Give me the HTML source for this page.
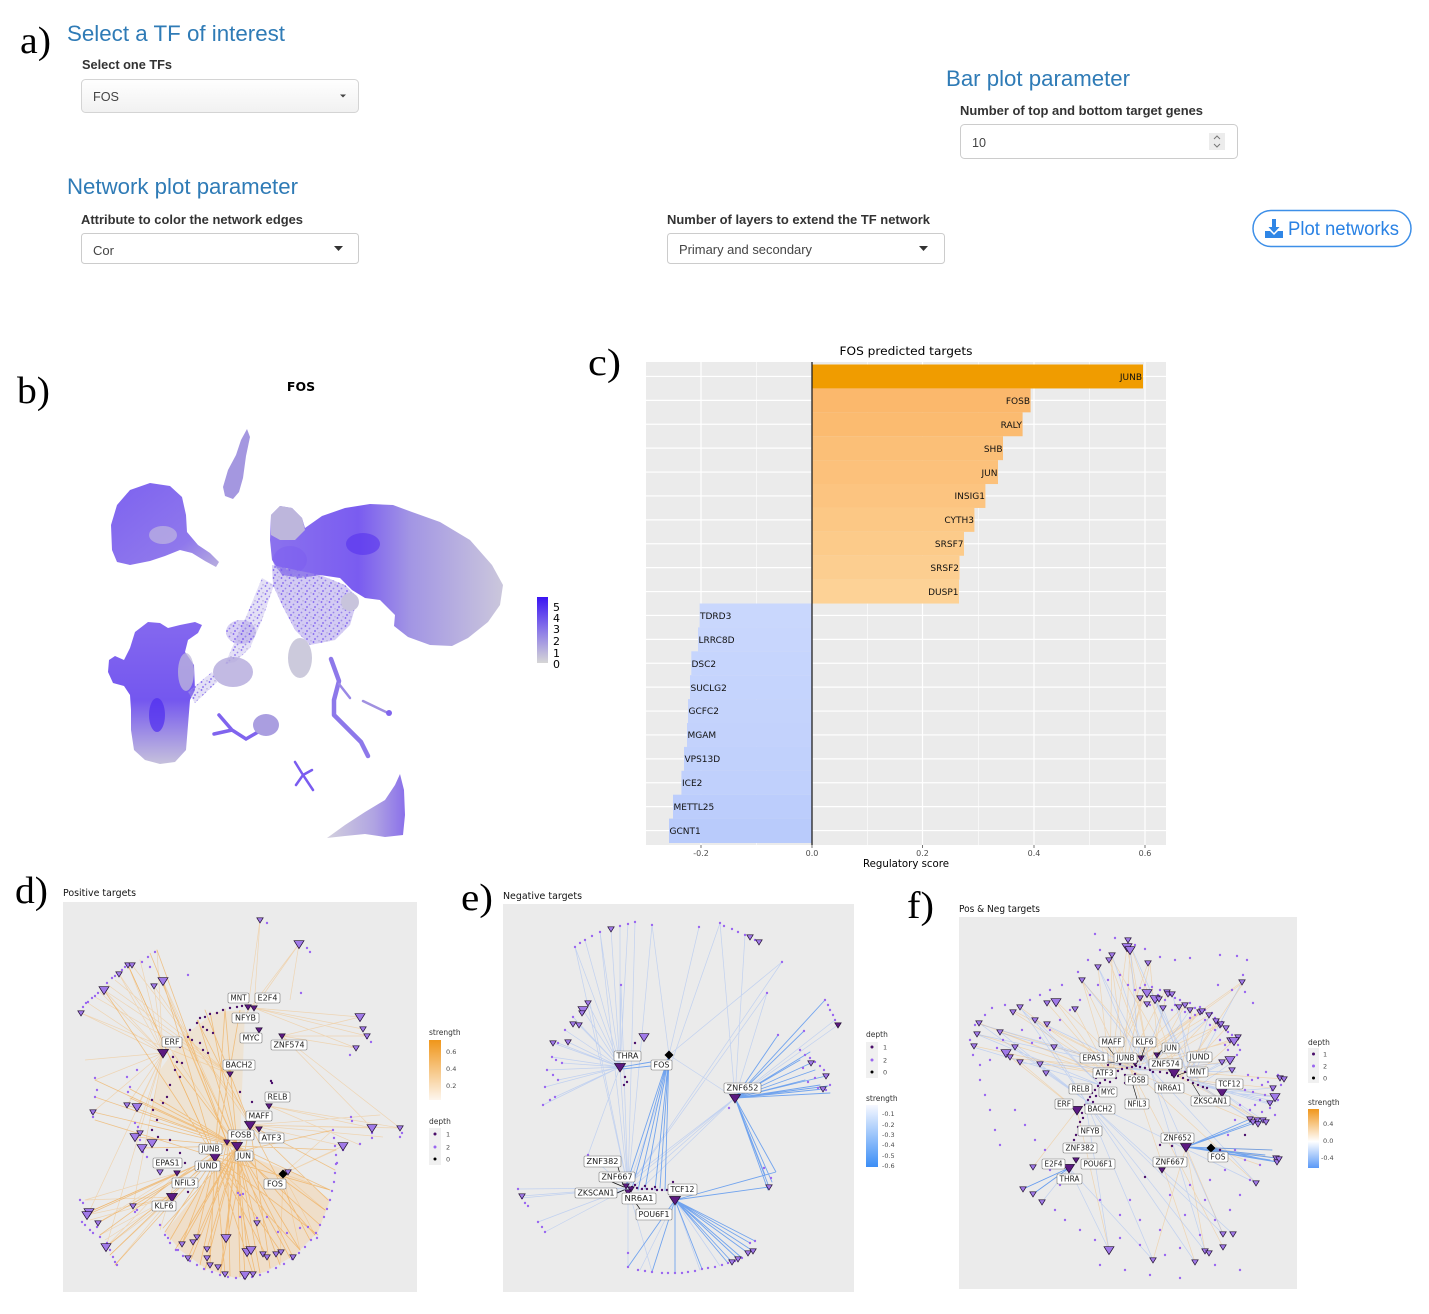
<!DOCTYPE html>
<html><head><meta charset="utf-8"><style>
html,body{margin:0;padding:0;background:#fff;}
svg{display:block;}
.h{font-family:"Liberation Sans",sans-serif;font-size:22px;fill:#2f7bb6;}
.lb{font-family:"Liberation Sans",sans-serif;font-size:13px;font-weight:bold;fill:#333;}
.in{font-family:"Liberation Sans",sans-serif;font-size:13px;fill:#444;}
.pl{font-family:"Liberation Serif",serif;font-size:38px;fill:#000;}
.dj{font-family:"DejaVu Sans","Liberation Sans",sans-serif;}
.lo{fill:none;stroke:#f6a640;stroke-opacity:.33;stroke-width:.7;stroke-linejoin:round;}
.lo2{fill:none;stroke:#f29a28;stroke-opacity:.5;stroke-width:.8;stroke-linejoin:round;}
.lb1{fill:none;stroke:#8fb2f6;stroke-opacity:.45;stroke-width:.7;stroke-linejoin:round;}
.lb2{fill:none;stroke:#3f86f0;stroke-opacity:.7;stroke-width:.9;stroke-linejoin:round;}
.dl{fill:none;stroke:#9966f0;stroke-width:2.4;stroke-linecap:round;}
.dd{fill:none;stroke:#4a0f6a;stroke-width:2.4;stroke-linecap:round;}
.bx{fill:#fff;stroke:#777;stroke-width:.6;}
.bt{font-family:"DejaVu Sans","Liberation Sans",sans-serif;font-size:7.5px;fill:#222;text-anchor:middle;}
.lg{font-family:"DejaVu Sans","Liberation Sans",sans-serif;font-size:7.5px;fill:#333;}
.lgs{font-family:"DejaVu Sans","Liberation Sans",sans-serif;font-size:6.5px;fill:#4d4d4d;}
.bl{font-family:"DejaVu Sans","Liberation Sans",sans-serif;font-size:9px;fill:#111;}
.tk{font-family:"DejaVu Sans","Liberation Sans",sans-serif;font-size:8px;fill:#4d4d4d;text-anchor:middle;}
</style></head><body>
<svg width="1429" height="1314" viewBox="0 0 1429 1314" xmlns="http://www.w3.org/2000/svg">
<defs>
<linearGradient id="selg" x1="0" y1="0" x2="0" y2="1"><stop offset="0" stop-color="#ffffff"/><stop offset="1" stop-color="#f1f1f1"/></linearGradient>
<linearGradient id="umleg" x1="0" y1="0" x2="0" y2="1"><stop offset="0" stop-color="#3a14f3"/><stop offset="0.5" stop-color="#8a78e8"/><stop offset="1" stop-color="#d6d6d6"/></linearGradient>
<linearGradient id="bigb" x1="0" y1="0" x2="1" y2="0"><stop offset="0" stop-color="#8b72ee"/><stop offset="0.38" stop-color="#7a5cf0"/><stop offset="0.6" stop-color="#a295e4"/><stop offset="1" stop-color="#cbc7dc"/></linearGradient>
<linearGradient id="llb" x1="0" y1="0" x2="0" y2="1"><stop offset="0" stop-color="#8468ef"/><stop offset="0.55" stop-color="#7457ef"/><stop offset="1" stop-color="#c6c1dc"/></linearGradient>
<linearGradient id="ulb" x1="0" y1="0" x2="1" y2="1"><stop offset="0" stop-color="#7d62f0"/><stop offset="0.7" stop-color="#8f78ec"/><stop offset="1" stop-color="#b8aede"/></linearGradient>
<linearGradient id="botb" x1="0" y1="0" x2="1" y2="0"><stop offset="0" stop-color="#d3d0de"/><stop offset="0.6" stop-color="#b0a4e2"/><stop offset="1" stop-color="#8a70ea"/></linearGradient>
<linearGradient id="gor" x1="0" y1="0" x2="0" y2="1"><stop offset="0" stop-color="#f0961a"/><stop offset="1" stop-color="#fdf6ee"/></linearGradient>
<linearGradient id="gbl" x1="0" y1="0" x2="0" y2="1"><stop offset="0" stop-color="#f6f8ff"/><stop offset="1" stop-color="#3b8ef6"/></linearGradient>
<linearGradient id="gob" x1="0" y1="0" x2="0" y2="1"><stop offset="0" stop-color="#f0961a"/><stop offset="0.55" stop-color="#ffffff"/><stop offset="1" stop-color="#5a99f7"/></linearGradient>
<pattern id="spk" width="8" height="8" patternUnits="userSpaceOnUse"><circle cx="1.5" cy="2" r="0.9" fill="#7a5cf0"/><circle cx="5.5" cy="4.5" r="0.9" fill="#9684ea"/><circle cx="3" cy="7" r="0.9" fill="#7a5cf0"/><circle cx="7" cy="0.8" r="0.8" fill="#b5acdc"/></pattern>
<path id="tls" d="M-3.2,-2.2L3.2,-2.2L0,3Z" fill="#a07ae8" stroke="#1e0a2e" stroke-width=".7"/>
<path id="tlb" d="M-5,-3.3L5,-3.3L0,4.6Z" fill="#a07ae8" stroke="#1e0a2e" stroke-width=".7"/>
<path id="tds" d="M-3.2,-2.2L3.2,-2.2L0,3Z" fill="#5c1a82" stroke="#1e0a2e" stroke-width=".7"/>
<path id="tdb" d="M-5.5,-3.5L5.5,-3.5L0,5Z" fill="#5c1a82" stroke="#1e0a2e" stroke-width=".7"/>
<path id="dia" d="M0,-4.5L4.5,0L0,4.5L-4.5,0Z" fill="#000"/>
</defs>
<rect x="0" y="0" width="1429" height="1314" fill="#fff"/>

<!-- ===== Panel a ===== -->
<text class="pl" x="20" y="53" textLength="31" lengthAdjust="spacingAndGlyphs">a)</text>
<text class="h" x="67" y="41" textLength="218" lengthAdjust="spacingAndGlyphs">Select a TF of interest</text>
<text class="lb" x="82" y="69" textLength="90" lengthAdjust="spacingAndGlyphs">Select one TFs</text>
<rect x="81.5" y="79.5" width="277" height="33" rx="4" fill="url(#selg)" stroke="#d4d4d4"/>
<text class="in" x="93" y="101" textLength="26" lengthAdjust="spacingAndGlyphs">FOS</text>
<path d="M340,94.5h6l-3,3z" fill="#444"/>

<text class="h" x="946" y="86" textLength="184" lengthAdjust="spacingAndGlyphs">Bar plot parameter</text>
<text class="lb" x="960" y="115" textLength="243" lengthAdjust="spacingAndGlyphs">Number of top and bottom target genes</text>
<rect x="960.5" y="124.5" width="277" height="34" rx="4" fill="#fff" stroke="#cccccc"/>
<text class="in" x="972" y="147" textLength="14" lengthAdjust="spacingAndGlyphs">10</text>
<rect x="1209" y="133" width="16" height="17" fill="#ececec"/>
<path d="M1214,139l3,-3l3,3M1214,144l3,3l3,-3" fill="none" stroke="#777" stroke-width="1"/>

<text class="h" x="67" y="194" textLength="231" lengthAdjust="spacingAndGlyphs">Network plot parameter</text>
<text class="lb" x="81" y="224" textLength="222" lengthAdjust="spacingAndGlyphs">Attribute to color the network edges</text>
<rect x="81.5" y="233.5" width="277" height="30" rx="3" fill="#fff" stroke="#cccccc"/>
<text class="in" x="93" y="255" font-size="14" textLength="21" lengthAdjust="spacingAndGlyphs">Cor</text>
<path d="M334,246h9l-4.5,5z" fill="#333"/>
<text class="lb" x="667" y="224" textLength="263" lengthAdjust="spacingAndGlyphs">Number of layers to extend the TF network</text>
<rect x="667.5" y="233.5" width="277" height="30" rx="3" fill="#fff" stroke="#cccccc"/>
<text class="in" x="679" y="254" font-size="14" textLength="133" lengthAdjust="spacingAndGlyphs">Primary and secondary</text>
<path d="M919,246h9l-4.5,5z" fill="#333"/>

<rect x="1253" y="210.5" width="158" height="36" rx="18" fill="#fff" stroke="#3d8fe8" stroke-width="1.5"/>
<path d="M1272,219h4v8h3.5l-5.5,6l-5.5,-6h3.5z" fill="#2f86e6"/>
<path d="M1265,231h5l4,4l4,-4h5v7h-18z" fill="#2f86e6"/>
<text x="1288" y="235" font-family="Liberation Sans, sans-serif" font-size="19" fill="#2a82e4" textLength="111" lengthAdjust="spacingAndGlyphs">Plot networks</text>

<!-- ===== Panel b (UMAP) ===== -->
<text class="pl" x="17" y="403" textLength="33" lengthAdjust="spacingAndGlyphs">b)</text>
<text x="301" y="391" font-family="DejaVu Sans, Liberation Sans, sans-serif" font-size="12.5" font-weight="bold" text-anchor="middle" fill="#000">FOS</text>
<g>
<path d="M247,429L250,437L246,456L243,478L239,492L233,499L225,496L223,487L228,470L236,455L241,440Z" fill="#a497e0"/>
<path d="M150,483L170,486L182,497L186,515L187,532L198,545L210,553L219,562L216,567L205,561L192,553L180,550L165,556L150,561L130,565L117,562L112,550L111,525L117,505L130,490Z" fill="url(#ulb)"/>
<ellipse cx="163" cy="535" rx="14" ry="9" fill="#c3bcde" opacity=".65"/>
<path d="M270,540L271,515L280,506L292,508L302,518L305,528L322,516L345,508L370,504L393,505L412,512L440,522L470,540L492,565L503,585L500,605L488,622L468,638L452,646L430,645L408,637L394,626L395,615L380,600L365,598L352,590L340,578L320,575L300,578L282,575L272,560Z" fill="url(#bigb)"/>
<path d="M271,515L280,506L292,508L302,518L305,530L295,540L280,540L271,535Z" fill="#bdb6dc"/>
<ellipse cx="363" cy="544" rx="17" ry="11" fill="#5632ef" opacity=".6"/>
<ellipse cx="290" cy="560" rx="17" ry="14" fill="#7a5cf0" opacity=".45"/>
<path d="M272,565L320,575L345,585L358,598L350,625L335,640L310,645L295,630L282,605L273,585Z" fill="#a898e8" opacity=".5"/>
<path d="M272,565L320,575L345,585L358,598L350,625L335,640L310,645L295,630L282,605L273,585Z" fill="url(#spk)"/>
<path d="M262,578L274,585L262,620L250,648L235,662L225,664L232,648L248,612Z" fill="#b2a6e6" opacity=".35"/>
<path d="M262,578L274,585L262,620L250,648L235,662L225,664L232,648L248,612Z" fill="url(#spk)" opacity=".9"/>
<ellipse cx="350" cy="602" rx="9" ry="9" fill="#c8c4dc"/>
<ellipse cx="300" cy="658" rx="12" ry="20" fill="#cccadc"/>
<path d="M109,660L115,656L124,660L130,648L135,632L148,622L160,623L168,628L180,625L195,622L202,625L198,633L188,640L185,652L194,665L195,690L190,700L188,725L186,750L175,762L160,764L145,760L134,750L131,730L131,710L130,695L124,686L113,683L108,672Z" fill="url(#llb)"/>
<ellipse cx="186" cy="672" rx="8" ry="19" fill="#bfb8dc" opacity=".75"/>
<ellipse cx="157" cy="715" rx="8" ry="17" fill="#4f2cef" opacity=".7"/>
<ellipse cx="233" cy="672" rx="20" ry="15" fill="#b3a9dc" opacity=".8"/>
<ellipse cx="241" cy="632" rx="15" ry="12" fill="#a897e6" opacity=".45"/>
<ellipse cx="241" cy="632" rx="15" ry="12" fill="url(#spk)"/>
<path d="M188,692L212,672L217,682L195,703Z" fill="#b2a6e6" opacity=".35"/>
<path d="M188,692L212,672L217,682L195,703Z" fill="url(#spk)"/>
<path d="M214,734L232,730M219,715L232,730L246,739L258,732" fill="none" stroke="#8064ee" stroke-width="3.5" stroke-linecap="round"/>
<ellipse cx="266" cy="725" rx="13" ry="11" fill="#aa9ee0"/>
<path d="M331,659L339,681L334,700L334,715L344,725L361,742L368,756" fill="none" stroke="#8d78ea" stroke-width="4.5" stroke-linecap="round" stroke-linejoin="round"/>
<path d="M339,684L350,698" fill="none" stroke="#9a88e6" stroke-width="2.5" stroke-linecap="round"/>
<path d="M363,701L388,713" fill="none" stroke="#a090e0" stroke-width="2.5" stroke-linecap="round"/>
<circle cx="389" cy="713" r="3" fill="#8064ee"/>
<path d="M295,762L303,775L313,790M296,785L303,775L312,770" fill="none" stroke="#7a5cf0" stroke-width="2.5" stroke-linecap="round"/>
<path d="M400,774L404,790L405,815L403,835L385,837L365,834L345,836L327,838L345,825L365,812L385,800L395,785Z" fill="url(#botb)"/>
</g>
<rect x="537" y="597" width="11" height="66" fill="url(#umleg)"/>
<g font-family="DejaVu Sans, Liberation Sans, sans-serif" font-size="11" fill="#000">
<text x="553" y="611">5</text><text x="553" y="622">4</text><text x="553" y="633">3</text><text x="553" y="645">2</text><text x="553" y="657">1</text><text x="553" y="668">0</text>
</g>

<!-- ===== Panel c (bar chart) ===== -->
<text class="pl" x="588" y="375" textLength="33" lengthAdjust="spacingAndGlyphs">c)</text>
<text class="dj" x="906" y="355" font-size="11.5" text-anchor="middle" fill="#000" textLength="133" lengthAdjust="spacingAndGlyphs">FOS predicted targets</text>
<rect x="646" y="362" width="520" height="483" fill="#ebebeb"/>
<g stroke="#fff">
<path d="M756.5,362V845M867.5,362V845M978.5,362V845M1089.5,362V845" stroke-width=".6"/>
<path d="M701,362V845M812,362V845M922.5,362V845M1034,362V845M1145,362V845" stroke-width="1.2"/>
<path d="M646,376.45H1166M646,400.35H1166M646,424.25H1166M646,448.15H1166M646,472.05H1166M646,495.95H1166M646,519.85H1166M646,543.75H1166M646,567.65H1166M646,591.55H1166M646,615.45H1166M646,639.35H1166M646,663.25H1166M646,687.15H1166M646,711.05H1166M646,734.95H1166M646,758.85H1166M646,782.75H1166M646,806.65H1166M646,830.55H1166" stroke-width="1.2"/>
</g>
<rect x="812" y="364.5" width="331" height="23.95" fill="#f09c00"/>
<rect x="812" y="388.4" width="218.6" height="23.95" fill="#fbb86c"/>
<rect x="812" y="412.3" width="210.6" height="23.95" fill="#fbbb70"/>
<rect x="812" y="436.2" width="191" height="23.95" fill="#fbbf77"/>
<rect x="812" y="460.1" width="186" height="23.95" fill="#fcc17b"/>
<rect x="812" y="484" width="173.4" height="23.95" fill="#fcc480"/>
<rect x="812" y="507.9" width="162.4" height="23.95" fill="#fcc885"/>
<rect x="812" y="531.8" width="152" height="23.95" fill="#fccb8a"/>
<rect x="812" y="555.7" width="147.5" height="23.95" fill="#fcce90"/>
<rect x="812" y="579.6" width="147" height="23.95" fill="#fdd296"/>
<rect x="699.6" y="603.5" width="112.4" height="23.95" fill="#c9d7fd"/>
<rect x="698" y="627.4" width="114" height="23.95" fill="#c8d6fd"/>
<rect x="691.3" y="651.3" width="120.7" height="23.95" fill="#c6d5fd"/>
<rect x="690" y="675.2" width="122" height="23.95" fill="#c5d4fd"/>
<rect x="688" y="699.1" width="124" height="23.95" fill="#c4d3fc"/>
<rect x="687" y="723" width="125" height="23.95" fill="#c3d2fc"/>
<rect x="684" y="746.9" width="128" height="23.95" fill="#c1d1fc"/>
<rect x="681.4" y="770.8" width="130.6" height="23.95" fill="#c0d0fc"/>
<rect x="673" y="794.7" width="139" height="23.95" fill="#bccdfc"/>
<rect x="669" y="818.6" width="143" height="24.4" fill="#b9cbfb"/>
<line x1="812" y1="362" x2="812" y2="845" stroke="#222" stroke-width="1.3"/>
<g class="bl" text-anchor="end">
<text x="1142" y="380">JUNB</text><text x="1030" y="404">FOSB</text><text x="1022" y="428">RALY</text><text x="1002.5" y="452">SHB</text><text x="997.5" y="476">JUN</text><text x="985" y="499">INSIG1</text><text x="974" y="523">CYTH3</text><text x="963.5" y="547">SRSF7</text><text x="959" y="571">SRSF2</text><text x="958.5" y="595">DUSP1</text>
</g>
<g class="bl">
<text x="700" y="619">TDRD3</text><text x="698.5" y="643">LRRC8D</text><text x="691.5" y="667">DSC2</text><text x="690.5" y="691">SUCLG2</text><text x="688.5" y="714">GCFC2</text><text x="687.5" y="738">MGAM</text><text x="684.5" y="762">VPS13D</text><text x="682" y="786">ICE2</text><text x="673.5" y="810">METTL25</text><text x="669.5" y="834">GCNT1</text>
</g>
<path d="M701,845v3M812,845v3M922.5,845v3M1034,845v3M1145,845v3" stroke="#555" stroke-width=".8"/>
<text class="tk" x="701" y="856">-0.2</text><text class="tk" x="812" y="856">0.0</text><text class="tk" x="922.5" y="856">0.2</text><text class="tk" x="1034" y="856">0.4</text><text class="tk" x="1145" y="856">0.6</text>
<text class="dj" x="906" y="867" font-size="10.5" text-anchor="middle" fill="#000" textLength="86" lengthAdjust="spacingAndGlyphs">Regulatory score</text>

<!-- ===== Panel d ===== -->
<text class="pl" x="15" y="903" textLength="33" lengthAdjust="spacingAndGlyphs">d)</text>
<text class="dj" x="63" y="896" font-size="9.5" fill="#111" textLength="73" lengthAdjust="spacingAndGlyphs">Positive targets</text>
<rect x="63" y="902" width="354" height="390" fill="#ebebeb"/>
<path d="M232,1150L165,1232L180,1250L205,1268L235,1278L265,1272L295,1255L318,1232L330,1200L300,1175Z" fill="#f8c17a" opacity=".3"/>
<path d="M240,1145L150,1115L160,1070L185,1035L215,1012L245,1010Z" fill="#f9cf96" opacity=".28"/>
<path class="lo" d="M163 1053 81 1013 163 1053 104 990 163 1053 119 974 163 1053 128 965 163 1053 154 986 163 1053 140 960 163 1053 157 950 163 1053 95 1080 163 1053 93 1112 163 1053 127 1105 163 1053 137 1107 163 1053 135 1137 163 1053 89 1212 163 1053 106 1247 163 1053 133 1206 163 1053 88 1003 163 1053 100 992 163 1053 85 1060 M260 920 248 1007 M260 920 254 1008 M299 944 254 1008 M299 944 245 1015 M299 944 290 1000 M254 1008 360 1017 254 1008 363 1029 254 1008 367 1036 254 1008 356 1048 M282 1036 356 1048 282 1036 367 1036 282 1036 400 1128 282 1036 372 1128 282 1036 360 1017 M250 1125 372 1128 250 1125 400 1128 250 1125 343 1146 250 1125 380 1115 250 1125 383 1137 M269 1106 372 1128 269 1106 360 1145 269 1106 400 1128 M163 981 237 1146 M163 981 227 1142 M154 986 250 1125 M128 965 215 1157 M132 965 259 1129 M104 990 230 1074 M119 974 237 1146 M230 1074 81 1013 230 1074 95 997 230 1074 108 985 230 1074 115 980 M172 1197 85 1200 172 1197 90 1220 172 1197 100 1235 172 1197 105 1240 172 1197 110 1255 172 1197 115 1265 172 1197 87 1215 172 1197 106 1247 172 1197 133 1206 M283 1174 315 1235 283 1174 325 1210 283 1174 330 1190 283 1174 336 1150 283 1174 333 1130 283 1174 343 1146 283 1174 300 1250 283 1174 280 1265 M177 1173 89 1212 177 1173 98 1223 177 1173 106 1247 177 1173 85 1200 177 1173 160 1230"/>
<path class="lo2" d="M237 1146 175 1250 237 1146 190 1262 237 1146 205 1270 237 1146 220 1275 237 1146 240 1277 237 1146 260 1273 237 1146 280 1265 237 1146 300 1250 237 1146 315 1235 237 1146 325 1210 237 1146 330 1190 237 1146 336 1150 237 1146 226 1238 237 1146 247 1252 237 1146 263 1254 237 1146 276 1254 237 1146 293 1257 237 1146 245 1275 237 1146 207 1249 237 1146 188 1258 237 1146 182 1244 237 1146 163 1228 237 1146 135 1137 237 1146 142 1148 237 1146 127 1105 237 1146 93 1112 237 1146 198 1020 237 1146 210 1012 237 1146 225 1009 237 1146 187 1040 237 1146 175 1065 237 1146 160 1100 237 1146 150 1120 237 1146 130 1089 237 1146 95 1080 M215 1157 165 1232 215 1157 182 1244 215 1157 197 1237 215 1157 210 1265 215 1157 225 1274 215 1157 253 1274 215 1157 267 1257 215 1157 281 1252 215 1157 300 1250 215 1157 318 1235 215 1157 330 1190 215 1157 333 1130 215 1157 89 1212 215 1157 106 1247 215 1157 133 1206 215 1157 87 1215 215 1157 98 1223 215 1157 95 1120 215 1157 104 990 215 1157 128 965 215 1157 163 981 215 1157 225 1009 215 1157 240 1010 M227 1142 170 1240 227 1142 200 1265 227 1142 230 1276 227 1142 255 1272 227 1142 290 1258 227 1142 320 1225 227 1142 100 1235 227 1142 115 1265 227 1142 110 1255 227 1142 95 1097 227 1142 130 1098 227 1142 157 950 227 1142 150 953 M250 1125 175 1250 250 1125 220 1275 250 1125 270 1268 250 1125 310 1240 250 1125 328 1200 250 1125 335 1170 250 1125 205 1010 250 1125 197 1020"/>
<path class="dl" d="M160 1225h0M165 1235h0M170 1243h0M176 1250h0M183 1256h0M190 1261h0M197 1265h0M204 1269h0M212 1272h0M220 1275h0M228 1277h0M236 1278h0M244 1278h0M252 1277h0M260 1275h0M268 1272h0M276 1268h0M284 1264h0M292 1259h0M299 1253h0M305 1247h0M311 1240h0M316 1233h0M320 1225h0M324 1217h0M327 1209h0M330 1200h0M332 1191h0M334 1182h0M335 1173h0M336 1164h0M336 1155h0M335 1146h0M334 1138h0M333 1130h0M337 1163h0M343 1150h0M351 1117h0M352 1121h0M372 1133h0M372 1138h0M400 1137h0M402 1133h0M360 1144h0M350 1055h0M371 1042h0M367 1038h0M310 952h0M307 948h0M267 923h0M301 993h0M188 975h0M155 952h0M148 957h0M150 967h0M142 962h0M80 1013h0M83 1007h0M86 1003h0M88 1002h0M92 998h0M95 996h0M98 993h0M107 983h0M112 978h0M115 976h0M122 970h0M125 967h0M95 1078h0M97 1090h0M95 1097h0M127 1077h0M130 1087h0M128 1092h0M137 1070h0M135 1123h0M138 1127h0M140 1140h0M143 1152h0M147 1157h0M92 1113h0M93 1117h0M80 1200h0M83 1203h0M82 1222h0M85 1225h0M90 1230h0M93 1233h0M100 1237h0M107 1243h0M110 1250h0M113 1257h0M115 1262h0M117 1265h0M97 1227h0M137 1210h0M135 1212h0M240 1195h0M238 1193h0M243 1194h0M257 1218h0M267 1217h0M240 1217h0M278 1232h0M287 1233h0M300 1228h0M308 1227h0M317 1238h0M168 1238h0M178 1250h0M188 1258h0"/>
<path class="dd" d="M197 1023h0M200 1018h0M205 1017h0M210 1014h0M217 1013h0M223 1010h0M230 1008h0M237 1007h0M242 1006h0M190 1030h0M188 1037h0M192 1040h0M200 1043h0M203 1050h0M208 1053h0M180 1047h0M173 1057h0M177 1062h0M182 1063h0M175 1070h0M180 1077h0M170 1085h0M167 1097h0M163 1103h0M152 1100h0M153 1110h0M157 1120h0M152 1130h0M158 1137h0M170 1140h0M167 1150h0M180 1153h0M185 1163h0M188 1192h0M271 1081h0M272 1083h0M240 1092h0M252 1102h0M203 1027h0M207 1030h0M213 1033h0"/>
<g>
<use href="#tls" x="260" y="920"/><use href="#tlb" x="299" y="944"/><use href="#tls" x="128" y="965"/><use href="#tls" x="132" y="965"/><use href="#tlb" x="163" y="981"/><use href="#tls" x="154" y="986"/><use href="#tlb" x="104" y="990"/><use href="#tls" x="119" y="974"/><use href="#tls" x="81" y="1013"/><use href="#tlb" x="360" y="1017"/><use href="#tls" x="363" y="1029"/><use href="#tls" x="367" y="1036"/><use href="#tls" x="356" y="1048"/><use href="#tls" x="127" y="1105"/><use href="#tlb" x="137" y="1107"/><use href="#tls" x="93" y="1112"/><use href="#tlb" x="135" y="1137"/><use href="#tlb" x="142" y="1148"/><use href="#tlb" x="152" y="1143"/><use href="#tls" x="140" y="1133"/><use href="#tls" x="160" y="1172"/><use href="#tlb" x="372" y="1128"/><use href="#tls" x="400" y="1128"/><use href="#tlb" x="343" y="1146"/><use href="#tls" x="133" y="1206"/><use href="#tlb" x="89" y="1212"/><use href="#tlb" x="87" y="1215"/><use href="#tls" x="98" y="1223"/><use href="#tlb" x="106" y="1247"/><use href="#tls" x="182" y="1244"/><use href="#tls" x="193" y="1242"/><use href="#tls" x="188" y="1258"/><use href="#tls" x="207" y="1249"/><use href="#tlb" x="226" y="1238"/><use href="#tlb" x="247" y="1252"/><use href="#tlb" x="251" y="1250"/><use href="#tls" x="263" y="1254"/><use href="#tls" x="267" y="1257"/><use href="#tls" x="276" y="1254"/><use href="#tls" x="281" y="1252"/><use href="#tls" x="293" y="1257"/><use href="#tlb" x="245" y="1275"/><use href="#tls" x="225" y="1274"/><use href="#tls" x="218" y="1267"/><use href="#tls" x="207" y="1258"/><use href="#tls" x="257" y="1223"/><use href="#tls" x="197" y="1237"/><use href="#tls" x="210" y="1265"/><use href="#tls" x="253" y="1274"/><use href="#tls" x="288" y="1172"/>
<use href="#tdb" x="163" y="1053"/><use href="#tds" x="248" y="1007"/><use href="#tds" x="254" y="1008"/><use href="#tds" x="259" y="1030"/><use href="#tds" x="282" y="1036"/><use href="#tds" x="230" y="1074"/><use href="#tds" x="269" y="1106"/><use href="#tdb" x="250" y="1125"/><use href="#tds" x="259" y="1129"/><use href="#tds" x="227" y="1142"/><use href="#tdb" x="237" y="1146"/><use href="#tdb" x="215" y="1157"/><use href="#tds" x="177" y="1173"/><use href="#tdb" x="172" y="1197"/><use href="#dia" x="283" y="1174"/>
</g>
<g>
<rect class="bx" x="228" y="993" width="21" height="10" rx="1.5"/><text class="bt" x="238.5" y="1000.7" textLength="16" lengthAdjust="spacingAndGlyphs">MNT</text>
<rect class="bx" x="255" y="993" width="25" height="10" rx="1.5"/><text class="bt" x="267.5" y="1000.7" textLength="20" lengthAdjust="spacingAndGlyphs">E2F4</text>
<rect class="bx" x="232" y="1013" width="27" height="10" rx="1.5"/><text class="bt" x="245.5" y="1020.7" textLength="21" lengthAdjust="spacingAndGlyphs">NFYB</text>
<rect class="bx" x="240" y="1033" width="22" height="10" rx="1.5"/><text class="bt" x="251" y="1040.7" textLength="17" lengthAdjust="spacingAndGlyphs">MYC</text>
<rect class="bx" x="271" y="1040" width="36" height="10" rx="1.5"/><text class="bt" x="289" y="1047.7" textLength="31" lengthAdjust="spacingAndGlyphs">ZNF574</text>
<rect class="bx" x="162" y="1037" width="20" height="10" rx="1.5"/><text class="bt" x="172" y="1044.7" textLength="15" lengthAdjust="spacingAndGlyphs">ERF</text>
<rect class="bx" x="223" y="1060" width="32" height="10" rx="1.5"/><text class="bt" x="239" y="1067.7" textLength="27" lengthAdjust="spacingAndGlyphs">BACH2</text>
<rect class="bx" x="265" y="1092" width="25" height="10" rx="1.5"/><text class="bt" x="277.5" y="1099.7" textLength="20" lengthAdjust="spacingAndGlyphs">RELB</text>
<rect class="bx" x="246" y="1111" width="26" height="10" rx="1.5"/><text class="bt" x="259" y="1118.7" textLength="21" lengthAdjust="spacingAndGlyphs">MAFF</text>
<rect class="bx" x="228" y="1130" width="26" height="10" rx="1.5"/><text class="bt" x="241" y="1137.7" textLength="21" lengthAdjust="spacingAndGlyphs">FOSB</text>
<rect class="bx" x="259" y="1133" width="25" height="10" rx="1.5"/><text class="bt" x="271.5" y="1140.7" textLength="20" lengthAdjust="spacingAndGlyphs">ATF3</text>
<rect class="bx" x="199" y="1144" width="23" height="10" rx="1.5"/><text class="bt" x="210.5" y="1151.7" textLength="18" lengthAdjust="spacingAndGlyphs">JUNB</text>
<rect class="bx" x="235" y="1151" width="18" height="10" rx="1.5"/><text class="bt" x="244" y="1158.7" textLength="14" lengthAdjust="spacingAndGlyphs">JUN</text>
<rect class="bx" x="153" y="1158" width="29" height="10" rx="1.5"/><text class="bt" x="167.5" y="1165.7" textLength="24" lengthAdjust="spacingAndGlyphs">EPAS1</text>
<rect class="bx" x="195" y="1161" width="25" height="10" rx="1.5"/><text class="bt" x="207.5" y="1168.7" textLength="20" lengthAdjust="spacingAndGlyphs">JUND</text>
<rect class="bx" x="172" y="1178" width="26" height="10" rx="1.5"/><text class="bt" x="185" y="1185.7" textLength="21" lengthAdjust="spacingAndGlyphs">NFIL3</text>
<rect class="bx" x="264" y="1179" width="22" height="10" rx="1.5"/><text class="bt" x="275" y="1186.7" textLength="16" lengthAdjust="spacingAndGlyphs">FOS</text>
<rect class="bx" x="152" y="1201" width="24" height="10" rx="1.5"/><text class="bt" x="164" y="1208.7" textLength="19" lengthAdjust="spacingAndGlyphs">KLF6</text>
</g>
<text class="lg" x="429" y="1035">strength</text>
<rect x="429" y="1040" width="12" height="60" fill="url(#gor)"/>
<text class="lgs" x="446" y="1054">0.6</text><text class="lgs" x="446" y="1071">0.4</text><text class="lgs" x="446" y="1088">0.2</text>
<text class="lg" x="429" y="1124">depth</text>
<rect x="429" y="1128" width="12" height="37" fill="#f0f0f0"/>
<circle cx="435" cy="1134" r="1.5" fill="#4a0f6a"/><circle cx="435" cy="1147" r="1.5" fill="#9966f0"/><circle cx="435" cy="1159" r="1.5" fill="#000"/>
<text class="lgs" x="446" y="1136.5">1</text><text class="lgs" x="446" y="1149.5">2</text><text class="lgs" x="446" y="1161.5">0</text>

<!-- ===== Panel e ===== -->
<text class="pl" x="461" y="910" textLength="32" lengthAdjust="spacingAndGlyphs">e)</text>
<text class="dj" x="503" y="899" font-size="9.5" fill="#111" textLength="79" lengthAdjust="spacingAndGlyphs">Negative targets</text>
<rect x="503" y="904" width="351" height="388" fill="#ebebeb"/>
<path class="lb1" d="M620 1067 573 1017 620 1067 565 1030 620 1067 558 1043 620 1067 552 1057 620 1067 547 1070 620 1067 545 1087 620 1067 543 1105 620 1067 555 1097 620 1067 558 1080 620 1067 562 1063 620 1067 583 1010 620 1067 588 1003 620 1067 579 1025 620 1067 568 1042 620 1067 553 1043 620 1067 611 929 620 1067 600 932 620 1067 585 940 620 1067 575 947 620 1067 621 985 620 1067 588 1155 620 1067 620 926 620 1067 628 924 M669 1055 699 927 669 1055 652 925 669 1055 735 1098 669 1055 782 962 M735 1098 720 923 735 1098 745 935 735 1098 767 993 735 1098 838 1025 735 1098 835 1020 M628 1188 611 929 628 1188 621 985 628 1188 635 922 628 1188 652 925 628 1188 575 947 628 1188 518 1189 628 1188 522 1198 628 1188 538 1222 628 1188 588 1155 628 1188 628 1253 628 1188 628 1267 628 1188 652 1272 628 1188 720 923 628 1188 782 962 628 1188 767 993 628 1188 600 932 628 1188 590 1003 628 1188 545 1232 M522 1196 626 1188 M735 1098 626 1186 735 1098 632 1188 735 1098 640 1190 735 1098 635 1175 M675 1200 640 1270 675 1200 700 1270 675 1200 720 1266"/>
<path class="lb2" d="M622 1067 651 1062 M622 1069 651 1066 M669 1055 626 1186 669 1055 632 1188 669 1055 638 1190 669 1055 645 1189 669 1055 655 1190 669 1055 660 1188 669 1055 665 1191 M735 1098 811 1063 735 1098 823 1089 735 1098 826 1076 735 1098 815 1070 735 1098 805 1080 735 1098 820 1085 735 1098 828 1086 735 1098 800 1060 735 1098 810 1052 735 1098 830 1093 735 1098 804 1031 735 1098 825 1000 735 1098 778 1035 M735 1098 769 1187 735 1098 765 1175 735 1098 772 1182 735 1098 768 1190 735 1098 776 1172 M675 1200 628 1267 675 1200 652 1272 675 1200 675 1273 675 1200 702 1269 675 1200 728 1263 675 1200 742 1258 675 1200 755 1241 675 1200 750 1243 675 1200 732 1262 675 1200 738 1259 675 1200 748 1253 675 1200 753 1251 675 1200 769 1187 675 1200 776 1172"/>
<path class="dl" d="M575 947h0M580 943h0M585 940h0M592 936h0M600 932h0M620 926h0M628 924h0M635 922h0M652 925h0M699 927h0M621 985h0M767 993h0M782 962h0M778 1035h0M804 1031h0M729 1108h0M720 923h0M724 926h0M732 929h0M738 932h0M745 935h0M755 940h0M825 1000h0M828 1005h0M830 1010h0M833 1015h0M835 1020h0M800 1050h0M805 1055h0M810 1058h0M815 1062h0M820 1066h0M824 1070h0M828 1075h0M815 1078h0M808 1082h0M818 1088h0M826 1090h0M830 1085h0M803 1068h0M573 1017h0M565 1030h0M558 1043h0M552 1057h0M547 1070h0M545 1087h0M543 1105h0M555 1097h0M558 1080h0M562 1063h0M550 1100h0M553 1075h0M556 1060h0M628 1267h0M638 1270h0M645 1271h0M652 1272h0M662 1273h0M668 1273h0M675 1273h0M682 1273h0M688 1272h0M695 1271h0M702 1269h0M708 1268h0M715 1267h0M722 1265h0M728 1263h0M735 1261h0M742 1258h0M755 1241h0M750 1243h0M518 1189h0M522 1198h0M525 1203h0M528 1206h0M538 1222h0M542 1227h0M545 1232h0M628 1253h0M588 1155h0M764 1168h0M771 1178h0"/>
<path class="dd" d="M635 1043h0M625 1077h0M627 1082h0M624 1085h0M673 1182h0M626 1186h0M632 1187h0M637 1188h0M642 1189h0M647 1189h0M652 1189h0M657 1190h0M662 1190h0M667 1190h0M635 1185h0M645 1186h0M655 1187h0"/>
<g>
<use href="#tls" x="611" y="929"/><use href="#tls" x="750" y="937"/><use href="#tls" x="759" y="942"/><use href="#tls" x="588" y="1003"/><use href="#tlb" x="583" y="1010"/><use href="#tls" x="582" y="1013"/><use href="#tls" x="573" y="1024"/><use href="#tls" x="579" y="1025"/><use href="#tls" x="568" y="1042"/><use href="#tls" x="553" y="1043"/><use href="#tlb" x="644" y="1037"/><use href="#tds" x="838" y="1025"/><use href="#tls" x="811" y="1063"/><use href="#tls" x="826" y="1076"/><use href="#tls" x="823" y="1089"/><use href="#tls" x="769" y="1187"/><use href="#tls" x="522" y="1196"/><use href="#tls" x="732" y="1262"/><use href="#tls" x="738" y="1259"/><use href="#tls" x="748" y="1253"/><use href="#tls" x="753" y="1251"/>
<use href="#tdb" x="620" y="1067"/><use href="#tdb" x="735" y="1098"/><use href="#tdb" x="675" y="1200"/><use href="#tds" x="626" y="1186"/><use href="#tds" x="631" y="1189"/><use href="#tds" x="628" y="1192"/><use href="#dia" x="669" y="1055"/>
</g>
<path d="M618,1167L623,1185M612,1182L624,1187M617,1193L624,1190M640,1209L630,1195" stroke="#111" stroke-width=".7" fill="none"/>
<g>
<rect class="bx" x="614" y="1051" width="27" height="10" rx="1.5"/><text class="bt" x="627.5" y="1058.7" textLength="22" lengthAdjust="spacingAndGlyphs">THRA</text>
<rect class="bx" x="651" y="1060" width="21" height="10" rx="1.5"/><text class="bt" x="661.5" y="1067.7" textLength="16" lengthAdjust="spacingAndGlyphs">FOS</text>
<rect class="bx" x="724" y="1083" width="37" height="10" rx="1.5"/><text class="bt" x="742.5" y="1090.7" textLength="32" lengthAdjust="spacingAndGlyphs">ZNF652</text>
<rect class="bx" x="584" y="1156" width="37" height="11" rx="1.5"/><text class="bt" x="602.5" y="1164.2" textLength="32" lengthAdjust="spacingAndGlyphs">ZNF382</text>
<rect class="bx" x="599" y="1172" width="36" height="10" rx="1.5"/><text class="bt" x="617" y="1179.7" textLength="31" lengthAdjust="spacingAndGlyphs">ZNF667</text>
<rect class="bx" x="575" y="1188" width="42" height="10" rx="1.5"/><text class="bt" x="596" y="1195.7" textLength="37" lengthAdjust="spacingAndGlyphs">ZKSCAN1</text>
<rect class="bx" x="622" y="1193" width="34" height="11" rx="1.5"/><text class="bt" x="639" y="1201.2" textLength="29" lengthAdjust="spacingAndGlyphs">NR6A1</text>
<rect class="bx" x="636" y="1209" width="36" height="11" rx="1.5"/><text class="bt" x="654" y="1217.2" textLength="31" lengthAdjust="spacingAndGlyphs">POU6F1</text>
<rect class="bx" x="668" y="1184" width="29" height="11" rx="1.5"/><text class="bt" x="682.5" y="1192.2" textLength="24" lengthAdjust="spacingAndGlyphs">TCF12</text>
</g>
<text class="lg" x="866" y="1037">depth</text>
<rect x="866" y="1042" width="12" height="36" fill="#f0f0f0"/>
<circle cx="872" cy="1047" r="1.5" fill="#4a0f6a"/><circle cx="872" cy="1060" r="1.5" fill="#9966f0"/><circle cx="872" cy="1072" r="1.5" fill="#000"/>
<text class="lgs" x="883" y="1049.5">1</text><text class="lgs" x="883" y="1062.5">2</text><text class="lgs" x="883" y="1074.5">0</text>
<text class="lg" x="866" y="1101">strength</text>
<rect x="866" y="1105" width="12" height="62" fill="url(#gbl)"/>
<text class="lgs" x="882" y="1116">-0.1</text><text class="lgs" x="882" y="1127">-0.2</text><text class="lgs" x="882" y="1137">-0.3</text><text class="lgs" x="882" y="1147">-0.4</text><text class="lgs" x="882" y="1158">-0.5</text><text class="lgs" x="882" y="1168">-0.6</text>

<!-- ===== Panel f ===== -->
<text class="pl" x="907" y="918" textLength="27" lengthAdjust="spacingAndGlyphs">f)</text>
<text class="dj" x="959" y="912" font-size="9.5" fill="#111" textLength="81" lengthAdjust="spacingAndGlyphs">Pos &amp; Neg targets</text>
<rect x="959" y="917" width="338" height="372" fill="#ebebeb"/>
<path class="lo" d="M1110 1075 1128 940 1110 1075 1112 955 1110 1075 1098 967 1110 1075 1082 980 1110 1075 1148 963 1110 1075 1147 993 1110 1075 1140 998 1110 1075 1056 1002 1110 1075 1047 1003 1110 1075 1075 1009 1110 1075 1020 1007 1110 1075 1013 1012 1110 1075 979 1023 1110 1075 977 1034 1110 1075 974 1046 1110 1075 1000 1032 1110 1075 1006 1053 1110 1075 1040 1064 1110 1075 1242 982 1110 1075 1209 1015 M1150 1068 1167 992 1150 1068 1185 1005 1150 1068 1200 1012 1150 1068 1220 1025 1150 1068 1230 1040 1150 1068 1127 947 1150 1068 1130 950 1150 1068 1109 960 M1190 1080 1238 1037 1190 1080 1232 1070 1190 1080 1273 1088 1190 1080 1257 1120 M1211 1148 1276 1158 1211 1148 1270 1150 1211 1148 1260 1165 M1186 1147 1223 1234 1186 1147 1205 1251 1186 1147 1153 1260 M1077 1110 1033 1167 1077 1110 1109 1250 1077 1110 1010 1057 1077 1110 1020 1062 M1130 1068 1195 1262 1130 1068 1223 1247 1130 1068 1256 1183 M1125 1068 1130 945 1125 1068 1111 957 1125 1068 1083 982 1125 1068 1057 1002 1125 1068 1150 963 1125 1068 1142 999 1125 1068 1165 991 1125 1068 1182 1008 1125 1068 1202 1011 1125 1068 1221 1024 1125 1068 1234 1041 1125 1068 1244 982 1125 1068 1014 1011 1125 1068 1037 1021 1125 1068 979 1024 1125 1068 1009 1058 1125 1068 1284 1079 1125 1068 1253 1122 M1180 1078 1130 945 1180 1078 1111 957 1180 1078 1226 1028 1180 1078 1216 1021 1180 1078 1192 1011 1180 1078 1244 982 1180 1078 1277 1097 1180 1078 1266 1122 M1160 1070 1150 963 1160 1070 1209 1018 1160 1070 1234 1061 1160 1070 1083 982"/>
<path class="lb1" d="M1190 1080 1128 940 1190 1080 1155 999 1190 1080 1163 1008 1190 1080 1179 1007 1190 1080 1209 1015 1190 1080 1230 1060 1190 1080 1222 1062 1190 1080 1275 1097 1190 1080 1270 1103 1190 1080 1250 1119 1190 1080 1242 982 M1150 1068 1112 955 1150 1068 1082 980 1150 1068 1098 967 1150 1068 1190 1010 M1085 1100 1020 1007 1085 1100 979 1023 1085 1100 1000 1032 1085 1100 1015 1047 1085 1100 1046 1073 1085 1100 1035 1020 1085 1100 1109 1250 1085 1100 1153 1260 1085 1100 1195 1262 1085 1100 1205 1251 1085 1100 1223 1234 1085 1100 1233 1234 1085 1100 1256 1183 M1222 1092 1273 1088 1222 1092 1275 1097 1222 1092 1257 1120 1222 1092 1263 1120 M1069 1168 1023 1189 1069 1168 1033 1194 1069 1168 1042 1202 1069 1168 1109 1250 1069 1168 1153 1260 M1150 1068 1223 1234 1150 1068 1205 1251 1150 1068 1256 1183 M1140 1070 1130 945 1140 1070 1098 967 1140 1070 1164 1008 1140 1070 1209 1018 1140 1070 1226 1063 1140 1070 1236 1072 1140 1070 979 1024 1140 1070 976 1034 1140 1070 1001 1033 1140 1070 1021 1063 1140 1070 1048 1026 M1200 1085 1277 1097 1200 1085 1278 1102 1200 1085 1273 1105 1200 1085 1258 1124 1200 1085 1234 1061 1200 1085 1152 993 1200 1085 1172 994 M1100 1085 976 1034 1100 1085 973 1047 1100 1085 1020 1008 1100 1085 1037 1021"/>
<path class="lb2" d="M1186 1147 1276 1158 1186 1147 1277 1162 1186 1147 1270 1160 1186 1147 1265 1155 1186 1147 1272 1150 1186 1147 1250 1119 1186 1147 1257 1120 1186 1147 1263 1120 M1069 1168 1023 1189 1069 1168 1033 1194 M1211 1148 1277 1162"/>
<path class="dl" d="M1135 990h0M1140 988h0M1145 985h0M1152 987h0M1160 990h0M1170 995h0M1175 998h0M1180 1000h0M1190 1003h0M1195 1008h0M1200 1007h0M1205 1010h0M1212 1013h0M1215 1018h0M1218 1020h0M1222 1022h0M1225 1028h0M1228 1032h0M1232 1035h0M1235 1042h0M1238 1045h0M1240 1050h0M1237 1055h0M1225 1045h0M1215 1030h0M1205 1020h0M1195 1015h0M1185 1012h0M1175 1005h0M1165 1000h0M1158 995h0M1172 1010h0M1190 1018h0M1210 1025h0M1228 1050h0M1220 1040h0M1150 1005h0M1248 1075h0M1252 1080h0M1258 1078h0M1262 1085h0M1268 1082h0M1272 1090h0M1265 1095h0M1260 1100h0M1255 1105h0M1250 1110h0M1262 1112h0M1270 1108h0M1275 1115h0M1278 1100h0M1245 1090h0M1253 1092h0M1281 1085h0M1278 1075h0M1266 1072h0M1095 934h0M1115 938h0M1135 945h0M1145 949h0M1160 957h0M1175 960h0M1190 958h0M1220 955h0M1237 956h0M1247 960h0M1243 975h0M1245 992h0M1253 1003h0M1232 990h0M1218 985h0M1100 950h0M1088 960h0M1078 972h0M1062 985h0M1050 990h0M1040 995h0M1030 1000h0M1005 1005h0M992 1008h0M985 1015h0M975 1025h0M970 1040h0M973 1055h0M980 1065h0M990 1060h0M997 1048h0M1003 1040h0M1022 1030h0M1032 1043h0M1040 1038h0M1050 1030h0M1060 1020h0M1070 1010h0M1080 1000h0M1090 995h0M1098 985h0M1108 980h0M1120 975h0M1128 985h0M980 1080h0M985 1095h0M990 1110h0M995 1130h0M1000 1145h0M1015 1110h0M1025 1125h0M1035 1140h0M1045 1150h0M1050 1170h0M1060 1185h0M1055 1210h0M1065 1220h0M1080 1230h0M1095 1240h0M1120 1238h0M1140 1245h0M1165 1255h0M1180 1248h0M1200 1235h0M1215 1220h0M1230 1210h0M1240 1195h0M1250 1180h0M1260 1165h0M1245 1160h0M1235 1150h0M1228 1135h0M1235 1120h0M1240 1105h0M1205 1200h0M1185 1215h0M1160 1230h0M1140 1220h0M1120 1215h0M1100 1200h0M1130 1200h0M1170 1195h0M1190 1185h0M1210 1180h0M1225 1170h0M1240 1270h0M1215 1265h0M1180 1278h0M1150 1275h0M1125 1270h0M1100 1265h0"/>
<path class="dd" d="M1082 1113h0M1083 1118h0M1080 1122h0M1078 1127h0M1085 1105h0M1088 1100h0M1090 1097h0M1092 1093h0M1095 1090h0M1098 1086h0M1100 1083h0M1105 1080h0M1108 1077h0M1113 1073h0M1118 1071h0M1122 1069h0M1127 1068h0M1132 1067h0M1136 1066h0M1140 1067h0M1145 1068h0M1150 1070h0M1153 1072h0M1160 1072h0M1167 1073h0M1172 1075h0M1178 1076h0M1183 1078h0M1188 1080h0M1193 1083h0M1198 1085h0M1203 1087h0M1207 1088h0M1093 1102h0M1096 1096h0M1102 1088h0M1110 1082h0M1116 1078h0M1125 1075h0M1135 1074h0M1145 1076h0M1120 1064h0M1128 1062h0M1115 1060h0M1108 1065h0M1100 1070h0M1096 1078h0M1125 1083h0M1132 1080h0M1140 1078h0M1155 1062h0M1165 1065h0M1175 1068h0M1185 1072h0M1195 1075h0M1076 1135h0M1074 1140h0M1160 1145h0M1172 1146h0M1220 1150h0M1218 1158h0M1245 1135h0M1145 1177h0"/>
<g>
<use href="#tls" x="1128" y="940"/><use href="#tlb" x="1127" y="947"/><use href="#tlb" x="1130" y="950"/><use href="#tls" x="1112" y="955"/><use href="#tls" x="1109" y="960"/><use href="#tls" x="1098" y="967"/><use href="#tls" x="1082" y="980"/><use href="#tls" x="1148" y="963"/><use href="#tlb" x="1147" y="993"/><use href="#tls" x="1140" y="998"/><use href="#tlb" x="1155" y="999"/><use href="#tls" x="1147" y="1004"/><use href="#tls" x="1167" y="992"/><use href="#tls" x="1168" y="994"/><use href="#tls" x="1163" y="1008"/><use href="#tls" x="1179" y="1007"/><use href="#tls" x="1185" y="1005"/><use href="#tls" x="1190" y="1010"/><use href="#tls" x="1200" y="1012"/><use href="#tls" x="1209" y="1015"/><use href="#tls" x="1220" y="1025"/><use href="#tls" x="1230" y="1040"/><use href="#tls" x="1238" y="1037"/><use href="#tlb" x="1230" y="1060"/><use href="#tls" x="1222" y="1062"/><use href="#tls" x="1232" y="1070"/><use href="#tls" x="1273" y="1088"/><use href="#tlb" x="1275" y="1097"/><use href="#tls" x="1270" y="1103"/><use href="#tls" x="1257" y="1120"/><use href="#tls" x="1250" y="1119"/><use href="#tls" x="1263" y="1120"/><use href="#tls" x="1280" y="1078"/><use href="#tls" x="1276" y="1158"/><use href="#tls" x="1277" y="1162"/><use href="#tls" x="1242" y="982"/><use href="#tlb" x="1056" y="1002"/><use href="#tls" x="1047" y="1003"/><use href="#tls" x="1075" y="1009"/><use href="#tls" x="1020" y="1007"/><use href="#tls" x="1013" y="1012"/><use href="#tls" x="1035" y="1020"/><use href="#tls" x="1047" y="1024"/><use href="#tls" x="979" y="1023"/><use href="#tls" x="977" y="1034"/><use href="#tls" x="974" y="1046"/><use href="#tls" x="1000" y="1032"/><use href="#tlb" x="1006" y="1053"/><use href="#tls" x="1010" y="1057"/><use href="#tls" x="1020" y="1062"/><use href="#tls" x="1015" y="1047"/><use href="#tls" x="1040" y="1064"/><use href="#tls" x="1046" y="1073"/><use href="#tls" x="1033" y="1167"/><use href="#tls" x="1023" y="1189"/><use href="#tls" x="1033" y="1194"/><use href="#tls" x="1042" y="1202"/><use href="#tls" x="1256" y="1183"/><use href="#tls" x="1223" y="1234"/><use href="#tls" x="1233" y="1234"/><use href="#tls" x="1223" y="1247"/><use href="#tls" x="1205" y="1251"/><use href="#tls" x="1209" y="1253"/><use href="#tls" x="1195" y="1262"/><use href="#tls" x="1153" y="1260"/><use href="#tlb" x="1109" y="1250"/><use href="#tls" x="1054" y="1047"/>
<use href="#tls" x="1202" y="1011"/><use href="#tls" x="1216" y="1021"/><use href="#tls" x="1221" y="1024"/><use href="#tls" x="1226" y="1028"/><use href="#tlb" x="1234" y="1041"/><use href="#tls" x="1253" y="1122"/><use href="#tls" x="1258" y="1124"/><use href="#tls" x="1266" y="1122"/><use href="#tls" x="1284" y="1079"/><use href="#tls" x="1279" y="1159"/><use href="#tls" x="1159" y="999"/><use href="#tls" x="1172" y="994"/>
<use href="#tds" x="1157" y="1055"/><use href="#tdb" x="1174" y="1073"/><use href="#tdb" x="1077" y="1110"/><use href="#tdb" x="1186" y="1147"/><use href="#tdb" x="1069" y="1168"/><use href="#tds" x="1076" y="1160"/><use href="#tdb" x="1222" y="1092"/><use href="#tds" x="1162" y="1170"/><use href="#tds" x="1120" y="1062"/><use href="#tds" x="1135" y="1063"/><use href="#tds" x="1141" y="1058"/><use href="#tds" x="1110" y="1072"/><use href="#dia" x="1211" y="1148"/>
</g>
<path d="M1108,1047L1118,1060M1145,1047L1141,1058M1162,1050L1157,1055M1182,1062L1174,1068M1108,1063L1120,1062M1187,1072L1178,1075M1200,1096L1192,1083M1137,1099L1130,1075" stroke="#111" stroke-width=".6" fill="none"/>
<g>
<rect class="bx" x="1099" y="1037" width="25" height="10" rx="1.5"/><text class="bt" x="1111.5" y="1044.7" textLength="20" lengthAdjust="spacingAndGlyphs">MAFF</text>
<rect class="bx" x="1133" y="1037" width="23" height="10" rx="1.5"/><text class="bt" x="1144.5" y="1044.7" textLength="18" lengthAdjust="spacingAndGlyphs">KLF6</text>
<rect class="bx" x="1162" y="1043" width="17" height="10" rx="1.5"/><text class="bt" x="1170.5" y="1050.7" textLength="13" lengthAdjust="spacingAndGlyphs">JUN</text>
<rect class="bx" x="1080" y="1053" width="28" height="10" rx="1.5"/><text class="bt" x="1094" y="1060.7" textLength="23" lengthAdjust="spacingAndGlyphs">EPAS1</text>
<rect class="bx" x="1114" y="1053" width="23" height="10" rx="1.5"/><text class="bt" x="1125.5" y="1060.7" textLength="18" lengthAdjust="spacingAndGlyphs">JUNB</text>
<rect class="bx" x="1187" y="1052" width="25" height="10" rx="1.5"/><text class="bt" x="1199.5" y="1059.7" textLength="20" lengthAdjust="spacingAndGlyphs">JUND</text>
<rect class="bx" x="1149" y="1059" width="33" height="10" rx="1.5"/><text class="bt" x="1165.5" y="1066.7" textLength="28" lengthAdjust="spacingAndGlyphs">ZNF574</text>
<rect class="bx" x="1093" y="1068" width="23" height="10" rx="1.5"/><text class="bt" x="1104.5" y="1075.7" textLength="18" lengthAdjust="spacingAndGlyphs">ATF3</text>
<rect class="bx" x="1187" y="1067" width="21" height="10" rx="1.5"/><text class="bt" x="1197.5" y="1074.7" textLength="16" lengthAdjust="spacingAndGlyphs">MNT</text>
<rect class="bx" x="1125" y="1075" width="23" height="10" rx="1.5"/><text class="bt" x="1136.5" y="1082.7" textLength="18" lengthAdjust="spacingAndGlyphs">FOSB</text>
<rect class="bx" x="1155" y="1083" width="29" height="10" rx="1.5"/><text class="bt" x="1169.5" y="1090.7" textLength="24" lengthAdjust="spacingAndGlyphs">NR6A1</text>
<rect class="bx" x="1216" y="1079" width="27" height="10" rx="1.5"/><text class="bt" x="1229.5" y="1086.7" textLength="22" lengthAdjust="spacingAndGlyphs">TCF12</text>
<rect class="bx" x="1069" y="1084" width="23" height="10" rx="1.5"/><text class="bt" x="1080.5" y="1091.7" textLength="18" lengthAdjust="spacingAndGlyphs">RELB</text>
<rect class="bx" x="1099" y="1087" width="18" height="10" rx="1.5"/><text class="bt" x="1108" y="1094.7" textLength="14" lengthAdjust="spacingAndGlyphs">MYC</text>
<rect class="bx" x="1191" y="1096" width="39" height="10" rx="1.5"/><text class="bt" x="1210.5" y="1103.7" textLength="34" lengthAdjust="spacingAndGlyphs">ZKSCAN1</text>
<rect class="bx" x="1125" y="1099" width="24" height="10" rx="1.5"/><text class="bt" x="1137" y="1106.7" textLength="19" lengthAdjust="spacingAndGlyphs">NFIL3</text>
<rect class="bx" x="1055" y="1099" width="18" height="10" rx="1.5"/><text class="bt" x="1064" y="1106.7" textLength="14" lengthAdjust="spacingAndGlyphs">ERF</text>
<rect class="bx" x="1085" y="1104" width="30" height="10" rx="1.5"/><text class="bt" x="1100" y="1111.7" textLength="25" lengthAdjust="spacingAndGlyphs">BACH2</text>
<rect class="bx" x="1078" y="1126" width="24" height="10" rx="1.5"/><text class="bt" x="1090" y="1133.7" textLength="19" lengthAdjust="spacingAndGlyphs">NFYB</text>
<rect class="bx" x="1161" y="1133" width="33" height="10" rx="1.5"/><text class="bt" x="1177.5" y="1140.7" textLength="28" lengthAdjust="spacingAndGlyphs">ZNF652</text>
<rect class="bx" x="1063" y="1143" width="34" height="10" rx="1.5"/><text class="bt" x="1080" y="1150.7" textLength="29" lengthAdjust="spacingAndGlyphs">ZNF382</text>
<rect class="bx" x="1208" y="1152" width="20" height="10" rx="1.5"/><text class="bt" x="1218" y="1159.7" textLength="15" lengthAdjust="spacingAndGlyphs">FOS</text>
<rect class="bx" x="1042" y="1159" width="23" height="10" rx="1.5"/><text class="bt" x="1053.5" y="1166.7" textLength="18" lengthAdjust="spacingAndGlyphs">E2F4</text>
<rect class="bx" x="1081" y="1159" width="34" height="10" rx="1.5"/><text class="bt" x="1098" y="1166.7" textLength="29" lengthAdjust="spacingAndGlyphs">POU6F1</text>
<rect class="bx" x="1153" y="1157" width="34" height="10" rx="1.5"/><text class="bt" x="1170" y="1164.7" textLength="29" lengthAdjust="spacingAndGlyphs">ZNF667</text>
<rect class="bx" x="1057" y="1174" width="25" height="10" rx="1.5"/><text class="bt" x="1069.5" y="1181.7" textLength="20" lengthAdjust="spacingAndGlyphs">THRA</text>
</g>
<text class="lg" x="1308" y="1045">depth</text>
<rect x="1308" y="1048" width="11" height="35" fill="#f0f0f0"/>
<circle cx="1313.5" cy="1054" r="1.5" fill="#4a0f6a"/><circle cx="1313.5" cy="1066" r="1.5" fill="#9966f0"/><circle cx="1313.5" cy="1078" r="1.5" fill="#000"/>
<text class="lgs" x="1323" y="1056.5">1</text><text class="lgs" x="1323" y="1068.5">2</text><text class="lgs" x="1323" y="1080.5">0</text>
<text class="lg" x="1308" y="1105">strength</text>
<rect x="1308" y="1109" width="11" height="59" fill="url(#gob)"/>
<text class="lgs" x="1323" y="1126">0.4</text><text class="lgs" x="1323" y="1143">0.0</text><text class="lgs" x="1321" y="1160">-0.4</text>
</svg>
</body></html>
